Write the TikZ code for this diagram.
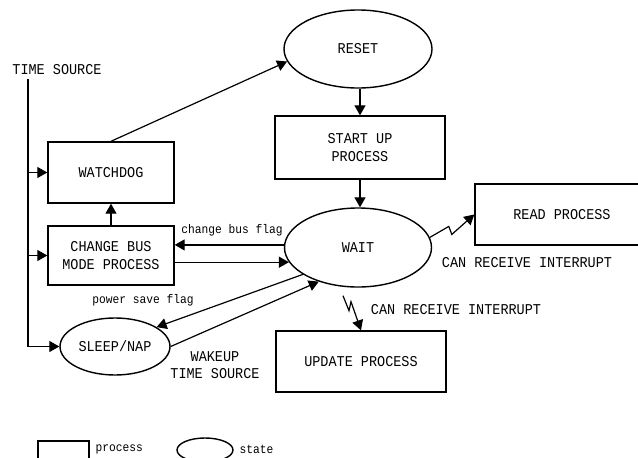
\documentclass[tikz,border=0pt]{standalone}
\usepackage{fontspec}
\setmainfont{Liberation Mono}[FakeStretch=0.9]
\usetikzlibrary{shapes.geometric,arrows.meta}
\begin{document}
\begin{tikzpicture}[x=1pt,y=-1pt,line width=1.2pt,
  big/.style={font=\fontsize{15}{17.5}\selectfont},
  small/.style={font=\fontsize{12.5}{15}\selectfont},
  proc/.style={draw,rectangle,line width=1.4pt,inner sep=0pt,align=center,big},
  st/.style={draw,ellipse,line width=1.4pt,inner sep=0pt,big},
  lbl/.style={inner sep=0pt,align=center,big},
  slbl/.style={inner sep=0pt,small},
  arr/.style={-{Triangle[length=10pt,width=11pt]}}]
\useasboundingbox (0,0) rectangle (638,458);
\clip (0,0) rectangle (638,458);
% nodes
\node[st,minimum width=148pt,minimum height=78pt] (reset) at (358,49) {RESET};
\node[proc,minimum width=170pt,minimum height=63pt] (startup) at (360,147.5) {START UP\\PROCESS};
\node[st,minimum width=147pt,minimum height=79pt] (wait) at (358,247.5) {WAIT};
\node[proc,minimum width=174pt,minimum height=61pt] (read) at (562,214.5) {READ PROCESS};
\node[proc,minimum width=170pt,minimum height=61pt] (update) at (361,361.5) {UPDATE PROCESS};
\node[proc,minimum width=126pt,minimum height=61pt] (watchdog) at (111,172.5) {WATCHDOG};
\node[proc,minimum width=126pt,minimum height=59pt] (changebus) at (111,255.5) {CHANGE BUS\\MODE PROCESS};
\node[st,minimum width=110pt,minimum height=57pt] (sleep) at (115,346.5) {SLEEP/NAP};
\node[lbl] (timesrc) at (57,70) {TIME SOURCE};
\node[slbl] (cbflag) at (232,230) {change bus flag};
\node[slbl] (psflag) at (143,300) {power save flag};
\node[lbl] (wakeup) at (215,365) {WAKEUP\\TIME SOURCE};
\node[lbl] (int1) at (527,263) {CAN RECEIVE INTERRUPT};
\node[lbl] (int2) at (456,310) {CAN RECEIVE INTERRUPT};
% time source bus
\coordinate (vtop) at (28,79);
\draw (vtop) |- (sleep.west);
\draw[arr] (vtop |- sleep.west) -- (sleep.west);
\draw[arr] (vtop |- watchdog.west) -- (watchdog.west);
\draw[arr] (vtop |- changebus.west) -- (changebus.west);
% connectors
\draw[arr] (watchdog.north) -- (reset.190);
\draw[arr] (startup.north |- reset.south) -- (startup.north);
\draw[arr] (startup.south) -- (startup.south |- wait.north);
\draw[arr] (changebus.north) -- (watchdog.south);
\draw[arr] (wait.178) -- (changebus.east |- wait.178);
\draw[arr] (changebus.east |- wait.192) -- (wait.192);
\draw[arr] (wait.206) -- (sleep.25);
\draw[arr] (sleep.east) -- (wait.221);
\draw[arr] (wait.8) -- ++(19,-11) -- ++(3,8) -- (read.west);
\draw[arr] ([shift={(-15,8)}]wait.south) -- ++(6,15) -- ++(2,-9) -- (update.north);
% legend
\node[draw,rectangle,line width=1.4pt,minimum width=51pt,minimum height=34pt,inner sep=0pt] (legproc) at (63.5,458) {};
\node[slbl,anchor=west] (legproct) at (95,449) {process};
\node[draw,ellipse,line width=1.4pt,minimum width=56pt,minimum height=24pt,inner sep=0pt] (legst) at (205,450) {};
\node[slbl,anchor=west] (legstt) at (239,449) {state};
\end{tikzpicture}
\end{document}
